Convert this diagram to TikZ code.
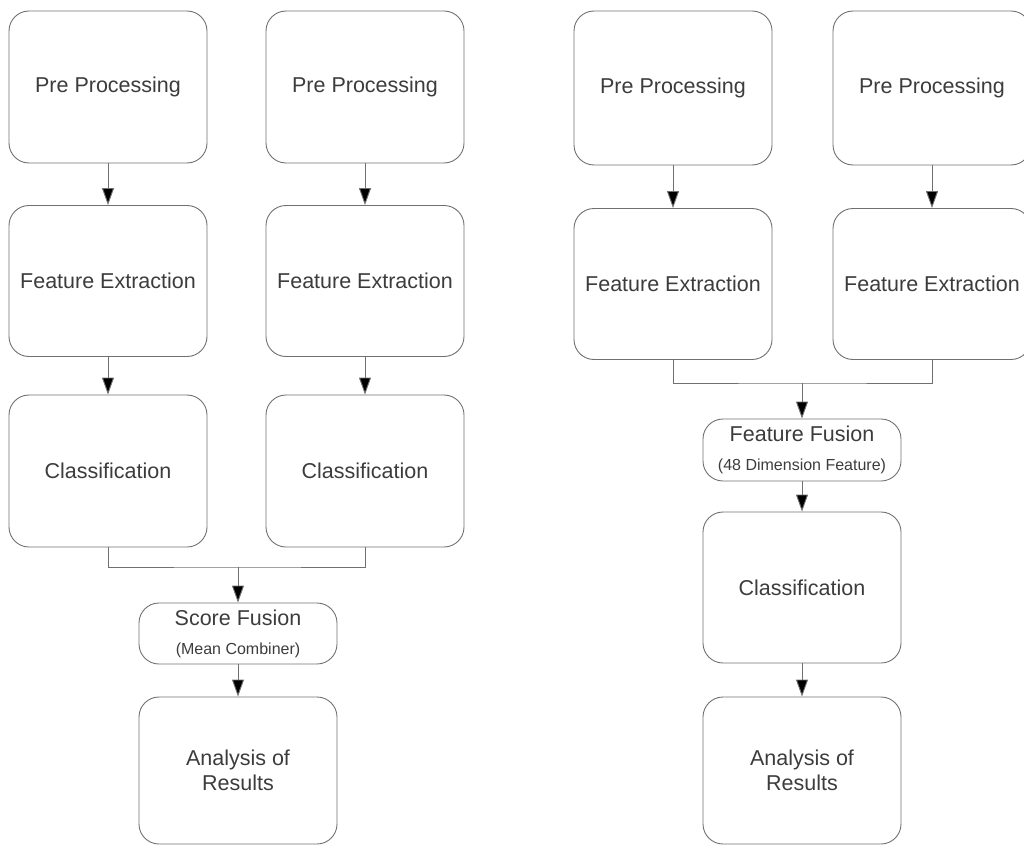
\documentclass[tikz,border=0pt]{standalone}
\usepackage{fontspec}
\setmainfont{Liberation Sans}
\usetikzlibrary{arrows.meta}

\definecolor{linegray}{HTML}{707070}
\definecolor{textgray}{HTML}{3C3C3C}

\begin{document}
\begin{tikzpicture}[x=1pt, y=-1pt, line width=0.9pt,
        box/.style = {draw=linegray, rounded corners=20pt, inner sep=0pt, align=center,
                      text=textgray, font=\fontsize{21.5}{25}\selectfont},
        big/.style = {box, minimum width=198pt, minimum height=152pt},
        fusion/.style = {box, minimum width=198pt, minimum height=61pt,
                         font=\fontsize{21.5}{29}\selectfont},
        arr/.style = {draw=linegray, -{Triangle[length=17pt, width=12pt, fill=black]}}]
        \useasboundingbox (0,0) rectangle (1024,845);

        % score level fusion
        \node[big] (pL1) at (108,87) {Pre Processing};
        \node[big] (pL2) at (365,87) {Pre Processing};
        \node[big, minimum height=151pt] (fL1) at (108,281) {Feature Extraction};
        \node[big, minimum height=151pt] (fL2) at (365,281) {Feature Extraction};
        \node[big] (cL1) at (108,471) {Classification};
        \node[big] (cL2) at (365,471) {Classification};
        \node[fusion] (sFus) at (238,633.5) {Score Fusion\\{\fontsize{16}{29}\selectfont (Mean Combiner)}};
        \node[big, minimum height=147pt] (aL) at (238,770.5) {Analysis of\\Results};
        \coordinate (jL) at (238,567);

        \draw[arr] (pL1) -- (fL1);
        \draw[arr] (pL2) -- (fL2);
        \draw[arr] (fL1) -- (cL1);
        \draw[arr] (fL2) -- (cL2);
        \draw[linegray] (cL1) |- (jL) -| (cL2);
        \draw[arr] (jL) -- (sFus);
        \draw[arr] (sFus) -- (aL);

        % feature level fusion
        \node[big, minimum height=154pt] (pR1) at (673,88) {Pre Processing};
        \node[big, minimum height=154pt] (pR2) at (932,88) {Pre Processing};
        \node[big, minimum height=151pt] (fR1) at (673,284) {Feature Extraction};
        \node[big, minimum height=151pt] (fR2) at (932,284) {Feature Extraction};
        \node[fusion, minimum height=62pt] (fFus) at (802,450) {Feature Fusion\\{\fontsize{16}{29}\selectfont (48 Dimension Feature)}};
        \node[big, minimum height=151pt] (cR) at (802,587.5) {Classification};
        \node[big, minimum height=147pt] (aR) at (802,770.5) {Analysis of\\Results};
        \coordinate (jR) at (802,383);

        \draw[arr] (pR1) -- (fR1);
        \draw[arr] (pR2) -- (fR2);
        \draw[linegray] (fR1) |- (jR) -| (fR2);
        \draw[arr] (jR) -- (fFus);
        \draw[arr] (fFus) -- (cR);
        \draw[arr] (cR) -- (aR);
\end{tikzpicture}
\end{document}
